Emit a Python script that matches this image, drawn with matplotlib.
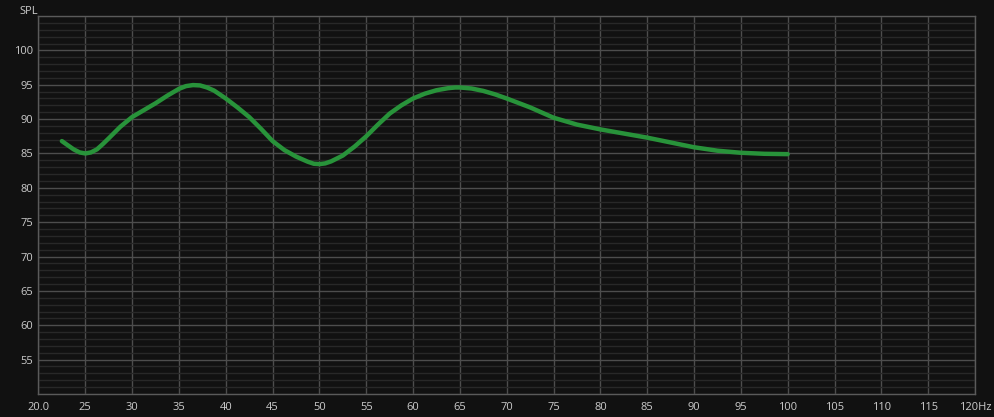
import numpy as np
import matplotlib.pyplot as plt

# frequency response
freq = [22.5, 23.75, 24.4, 25.0, 25.6, 26.25, 26.9, 27.5, 28.75, 30.0, 31.25, 32.5,
        33.75, 35.0, 35.75, 36.5, 37.25, 38.0, 38.75, 40.0, 41.25, 42.5, 43.75, 45.0,
        46.25, 47.5, 48.75, 49.4, 50.0, 50.6, 51.25, 52.5, 53.75, 55.0, 56.25, 57.5,
        58.75, 60.0, 61.25, 62.5, 63.75, 64.5, 65.0, 66.25, 67.5, 68.75, 70.0, 72.5,
        75.0, 77.5, 80.0, 82.5, 85.0, 87.5, 90.0, 92.5, 95.0, 97.5, 100.0]
spl = [86.8, 85.6, 85.15, 85.0, 85.15, 85.6, 86.4, 87.2, 88.9, 90.3, 91.3, 92.3,
       93.4, 94.4, 94.8, 94.95, 94.9, 94.6, 94.15, 93.0, 91.7, 90.3, 88.6, 86.8,
       85.5, 84.55, 83.8, 83.5, 83.45, 83.55, 83.85, 84.7, 86.0, 87.5, 89.2, 90.8,
       92.0, 93.0, 93.7, 94.2, 94.5, 94.6, 94.6, 94.45, 94.1, 93.6, 93.0, 91.7,
       90.2, 89.2, 88.5, 87.9, 87.3, 86.6, 85.9, 85.4, 85.1, 84.95, 84.9]

xticks = list(range(20, 121, 5))
xlabels = ["20.0"] + [str(v) for v in xticks[1:-1]] + ["120Hz"]
yticks = list(range(55, 101, 5))

bg = "#111111"
txt = "#cccccc"
plt.rcParams['font.family'] = ['Open Sans', 'DejaVu Sans']

fig = plt.figure(figsize=(9.94, 4.17), dpi=100, facecolor=bg)
ax = fig.add_axes([0.0387, 0.0552, 0.9422, 0.9064], facecolor=bg)

ax.set_xlim(20, 120)
ax.set_ylim(50, 105)
ax.set_xticks(xticks)
ax.set_xticklabels(xlabels)
ax.set_yticks(yticks)
ax.set_yticks(np.arange(50, 106, 1), minor=True)
ax.tick_params(which='both', length=0, colors=txt, labelsize=8)
ax.tick_params(axis='x', pad=6)
ax.tick_params(axis='y', pad=4)

ax.grid(which='minor', axis='y', color='#282828', lw=1)
ax.grid(which='major', color='#4d4d4d', lw=1)
ax.set_axisbelow(True)
for s in ax.spines.values():
    s.set_color('#5a5a5a')
    s.set_linewidth(1)

ax.plot(freq, spl, color='#28933a', lw=3.2, solid_capstyle='round', solid_joinstyle='round')

fig.text(0.0191, 0.985, "SPL", color=txt, fontsize=8, va='top', ha='left')

fig.savefig("out.png", dpi=100, facecolor=bg)
